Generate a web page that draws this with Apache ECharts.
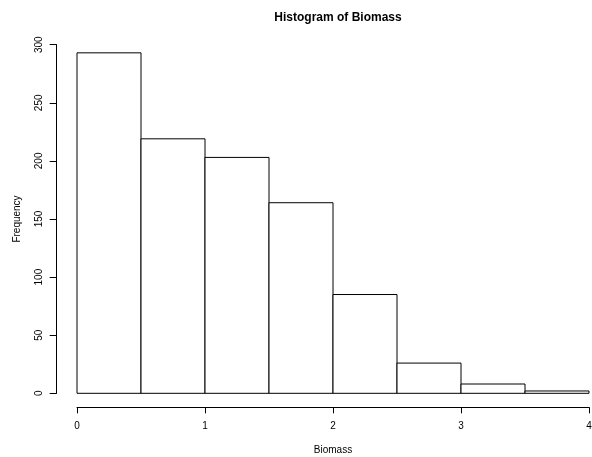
<!DOCTYPE html>
<html>
<head>
<meta charset="utf-8">
<script src="https://cdn.jsdelivr.net/npm/echarts@6/dist/echarts.min.js"></script>
<style>html,body{margin:0;padding:0;background:#fff;}#c{width:592px;height:457px;}</style>
</head>
<body>
<div id="c"></div>
<script>
const binStarts = [0, 0.5, 1, 1.5, 2, 2.5, 3, 3.5];
const binEnds = [0.5, 1, 1.5, 2, 2.5, 3, 3.5, 4];
const frequencies = [293, 219, 203, 164, 85, 26, 8, 2];
const xTicks = [0, 1, 2, 3, 4];
const yTicks = [0, 50, 100, 150, 200, 250, 300];

const data = binStarts.map((s, i) => [s, binEnds[i], frequencies[i]]);
const font = 'Liberation Sans, Arial, Helvetica, sans-serif';

const chart = echarts.init(document.getElementById('c'), null, {renderer: 'canvas'});
chart.setOption({
  backgroundColor: '#fff',
  animation: false,
  title: {
    text: 'Histogram of Biomass',
    left: 333, top: 7, textAlign: 'center',
    textStyle: {fontFamily: font, fontSize: 12, fontWeight: 'bold', color: '#000'}
  },
  grid: {left: 77, right: 3, top: 44.7, bottom: 63.7, containLabel: false, outerBoundsMode: 'none'},
  xAxis: {
    type: 'value', min: xTicks[0], max: xTicks[xTicks.length - 1], interval: 1,
    offset: 14,
    name: 'Biomass', nameLocation: 'middle', nameGap: 38,
    nameTextStyle: {fontFamily: font, fontSize: 10, color: '#000'},
    axisLine: {show: true, onZero: false, lineStyle: {color: '#000', width: 1}},
    axisTick: {show: true, length: 6, lineStyle: {color: '#000', width: 1}},
    axisLabel: {fontFamily: font, fontSize: 10, color: '#000', margin: 14, showMinLabel: true, showMaxLabel: true},
    splitLine: {show: false}
  },
  yAxis: {
    type: 'value', min: yTicks[0], max: yTicks[yTicks.length - 1], interval: 50,
    offset: 20.3,
    name: 'Frequency', nameLocation: 'middle', nameGap: 34, nameRotate: 90,
    nameTextStyle: {fontFamily: font, fontSize: 10, color: '#000'},
    axisLine: {show: true, onZero: false, lineStyle: {color: '#000', width: 1}},
    axisTick: {show: true, length: 7, lineStyle: {color: '#000', width: 1}},
    axisLabel: {fontFamily: font, fontSize: 10, color: '#000', margin: 12, rotate: 90, showMinLabel: true, showMaxLabel: true},
    splitLine: {show: false}
  },
  series: [{
    type: 'custom',
    data: data,
    encode: {x: [0, 1], y: 2},
    renderItem: function (params, api) {
      const p0 = api.coord([api.value(0), 0]);
      const p1 = api.coord([api.value(1), api.value(2)]);
      return {
        type: 'rect',
        shape: {x: p0[0], y: p1[1], width: p1[0] - p0[0], height: p0[1] - p1[1]},
        style: {fill: '#fff', stroke: '#000', lineWidth: 1}
      };
    }
  }]
});
</script>
</body>
</html>
